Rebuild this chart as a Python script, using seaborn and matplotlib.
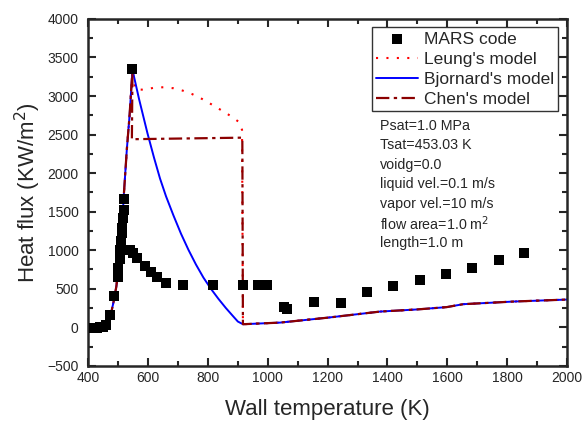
import matplotlib
matplotlib.use("Agg")
import matplotlib.pyplot as plt
from matplotlib.ticker import MultipleLocator
import pandas as pd
import seaborn as sns

# MARS code points (wall temperature K, heat flux kW/m2)
mars_T = [420, 430, 440, 450, 460, 473, 487, 498, 501, 507, 507, 510, 512, 513, 516, 518, 520,
          545, 540, 549, 562, 590, 609, 629, 660, 716, 816, 917, 969, 997, 1055, 1064, 1153,
          1245, 1331, 1418, 1507, 1596, 1681, 1771, 1856]
mars_q = [-10, -5, 0, 10, 30, 160, 400, 658, 767, 884, 1004, 1121, 1222, 1286, 1416, 1523, 1666,
          3345, 1004, 970, 897, 797, 723, 658, 580, 547, 547, 547, 547, 547, 269, 235, 334,
          321, 463, 541, 619, 697, 775, 875, 970]

# shared rising branch
rise_T = [400, 440, 462, 473, 485, 494, 501, 507, 512, 518, 529, 538, 548]
rise_q = [-30, -11, 19, 119, 334, 528, 745, 962, 1134, 1653, 2301, 2734, 3340]

# shared film boiling branch
low_T = [917, 1041, 1200, 1375, 1500, 1598, 1653, 1820, 2000]
low_q = [40, 61, 125, 204, 232, 262, 300, 334, 360]

# Bjornard transition branch
bj_T = [548, 570, 598, 620, 640, 660, 685, 710, 735, 760, 785, 810, 835, 860, 885, 900, 917]
bj_q = [3340, 2960, 2518, 2200, 1930, 1700, 1450, 1215, 1005, 815, 645, 500, 370, 250, 140, 75, 40]

# Leung transition branch
le_T = [548, 557, 590, 621, 653, 685, 716, 748, 780, 811, 843, 874, 905, 914, 917]
le_q = [3340, 3089, 3080, 3110, 3114, 3101, 3070, 3024, 2963, 2894, 2820, 2746, 2660, 2561, 40]

# Chen transition branch
ch_T = [548, 546, 915, 917]
ch_q = [3340, 2440, 2460, 40]

models = {
    "Leung's model": (le_T, le_q, "red", (0, (1, 4)), 1.5),
    "Bjornard's model": (bj_T, bj_q, "blue", "-", 1.4),
    "Chen's model": (ch_T, ch_q, "#8b0000", (0, (6, 2, 1.5, 2)), 1.6),
}

info = ["Psat=1.0 MPa", "Tsat=453.03 K", "voidg=0.0", "liquid vel.=0.1 m/s",
        "vapor vel.=10 m/s", "flow area=1.0 m$^2$", "length=1.0 m"]

sns.set_style("ticks")
plt.rcParams['font.family'] = ['Liberation Sans', 'DejaVu Sans']

fig = plt.figure(figsize=(5.84, 4.21), dpi=100)
ax = fig.add_axes([0.151, 0.131, 0.820, 0.824])

sns.scatterplot(x=mars_T, y=mars_q, marker="s", s=45, color="black", edgecolor="black",
                linewidth=0, ax=ax, label="MARS code", zorder=3)

for name, (tt, qq, c, ls, lw) in models.items():
    df = pd.DataFrame({"T": rise_T + tt[1:] + low_T[1:], "q": rise_q + qq[1:] + low_q[1:]})
    sns.lineplot(data=df, x="T", y="q", sort=False, estimator=None, color=c,
                 linestyle=ls, linewidth=lw, ax=ax, label=name, zorder=2)

ax.set_xlim(400, 2000)
ax.set_ylim(-500, 4000)
ax.xaxis.set_major_locator(MultipleLocator(200))
ax.xaxis.set_minor_locator(MultipleLocator(100))
ax.yaxis.set_major_locator(MultipleLocator(500))
ax.yaxis.set_minor_locator(MultipleLocator(250))
ax.tick_params(which="both", direction="in", top=True, right=True, width=1.5, labelsize=10)
ax.tick_params(which="major", length=6)
ax.tick_params(which="minor", length=3.5)
ax.tick_params(axis="y", pad=7)
for sp in ax.spines.values():
    sp.set_linewidth(1.8)

ax.set_xlabel("Wall temperature (K)", fontsize=16, labelpad=10)
ax.set_ylabel("Heat flux (KW/m$^2$)", fontsize=16, labelpad=3)

leg = ax.legend(loc="upper right", bbox_to_anchor=(0.982, 0.976), fontsize=12.5, frameon=True,
                fancybox=False, edgecolor="black", handlelength=2.4, borderpad=0.25,
                labelspacing=0.28, handletextpad=0.35, borderaxespad=0.0)
leg.get_frame().set_linewidth(1.0)

for i, line in enumerate(info):
    ax.text(0.610, 0.692 - i * 0.0562, line, transform=ax.transAxes, fontsize=10.3,
            va="center", ha="left")

fig.savefig("out.png", dpi=100)
